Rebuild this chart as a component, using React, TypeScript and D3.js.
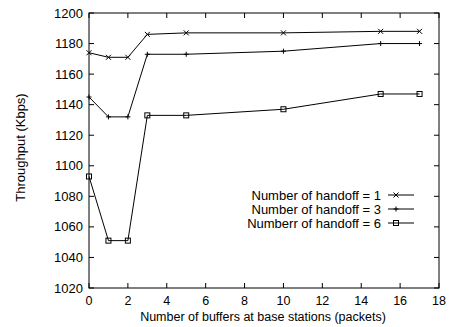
import React from "react";
import * as d3 from "d3";

const xValues = [0, 1, 2, 3, 5, 10, 15, 17];
const handoff1 = [1174, 1171, 1171, 1186, 1187, 1187, 1188, 1188];
const handoff3 = [1145, 1132, 1132, 1173, 1173, 1175, 1180, 1180];
const handoff6 = [1093, 1051, 1051, 1133, 1133, 1137, 1147, 1147];
const seriesLabels = ["Number of handoff = 1", "Number of handoff = 3", "Numberr of handoff = 6"];
const xTicks = [0, 2, 4, 6, 8, 10, 12, 14, 16, 18];
const yTicks = [1020, 1040, 1060, 1080, 1100, 1120, 1140, 1160, 1180, 1200];

const W = 450, H = 327;
const L = 89, R = 439, T = 13, B = 288;
const font = "'Liberation Sans', Arial, Helvetica, sans-serif";
const FS = 13;
const FSX = 12.5;

function Marker({ kind, x, y }: { kind: number; x: number; y: number }) {
  const s = 2.5;
  if (kind === 0)
    return (
      <path d={`M${x - s},${y - s}L${x + s},${y + s}M${x - s},${y + s}L${x + s},${y - s}`} stroke="#000" strokeWidth={1} />
    );
  if (kind === 1)
    return <path d={`M${x - s},${y}L${x + s},${y}M${x},${y - s}L${x},${y + s}`} stroke="#000" strokeWidth={1} />;
  return <rect x={x - 2.5} y={y - 2.5} width={5} height={5} fill="none" stroke="#000" strokeWidth={1} />;
}

export default function App() {
  const x = d3.scaleLinear().domain([0, 18]).range([L, R]);
  const y = d3.scaleLinear().domain([1020, 1200]).range([B, T]);
  const series = [handoff1, handoff3, handoff6];
  const line = d3
    .line<number>()
    .x((_, i) => x(xValues[i]))
    .y((d) => y(d));
  const tl = 5;
  return (
    <svg width={W} height={H} style={{ position: "absolute", left: 0, top: 0 }} fontFamily={font}>
      <rect width={W} height={H} fill="#fff" />
      {yTicks.map((t) => (
        <g key={"y" + t}>
          <line x1={L} x2={L + tl} y1={y(t)} y2={y(t)} stroke="#000" />
          <line x1={R} x2={R - tl} y1={y(t)} y2={y(t)} stroke="#000" />
          <text x={L - 6} y={y(t)} dy="0.35em" textAnchor="end" fontSize={FS}>
            {t}
          </text>
        </g>
      ))}
      {xTicks.map((t) => (
        <g key={"x" + t}>
          <line x1={x(t)} x2={x(t)} y1={B} y2={B - tl} stroke="#000" />
          <line x1={x(t)} x2={x(t)} y1={T} y2={T + tl} stroke="#000" />
          <text x={x(t)} y={B + 13} dy="0.35em" textAnchor="middle" fontSize={FSX}>
            {t}
          </text>
        </g>
      ))}
      <rect x={L} y={T} width={R - L} height={B - T} fill="none" stroke="#000" strokeWidth={1} />
      {series.map((s, k) => (
        <g key={"s" + k}>
          <path d={line(s) || ""} fill="none" stroke="#000" strokeWidth={1} />
          {s.map((v, i) => (
            <Marker key={i} kind={k} x={x(xValues[i])} y={y(v)} />
          ))}
        </g>
      ))}
      {seriesLabels.map((lab, k) => {
        const ly = 195 + k * 14;
        return (
          <g key={"l" + k}>
            <text x={381} y={ly} dy="0.35em" textAnchor="end" fontSize={FS}>
              {lab}
            </text>
            <line x1={388} x2={414} y1={ly} y2={ly} stroke="#000" />
            <Marker kind={k} x={396} y={ly} />
          </g>
        );
      })}
      <text x={(L + R) / 2 - 1} y={316.5} dy="0.35em" textAnchor="middle" fontSize={FSX}>
        Number of buffers at base stations (packets)
      </text>
      <text transform={`translate(20,${(T + B) / 2 - 3}) rotate(-90)`} dy="0.35em" textAnchor="middle" fontSize={FS}>
        Throughput (Kbps)
      </text>
    </svg>
  );
}
